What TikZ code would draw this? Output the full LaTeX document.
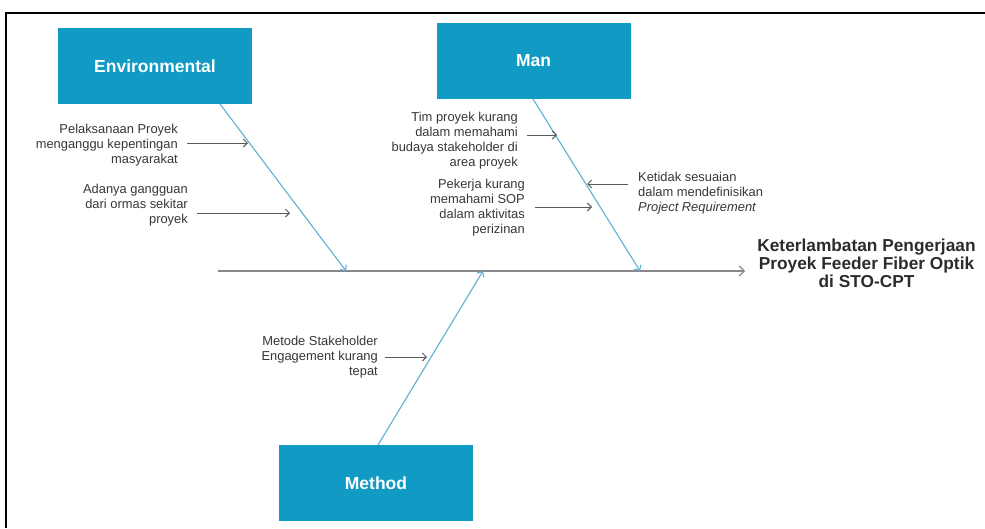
\documentclass[tikz,border=0pt]{standalone}
\usepackage{fontspec}
\setmainfont{Liberation Sans}
\usetikzlibrary{arrows.meta}
\definecolor{boxblue}{RGB}{16,154,196}
\definecolor{bonecol}{RGB}{95,176,210}
\definecolor{txtcol}{RGB}{55,55,55}
\definecolor{arrcol}{RGB}{90,90,90}
\definecolor{spinecol}{RGB}{135,135,140}
\tikzset{
  catbox/.style={fill=boxblue, draw=none, minimum width=194pt, minimum height=76pt,
    text=white, font=\fontsize{17.5}{19}\selectfont\bfseries, inner sep=0pt},
  causetext/.style={inner sep=0pt, text=txtcol, font=\fontsize{12.9}{15}\selectfont},
  bone/.style={draw=bonecol, line width=1.1pt, -{Straight Barb[length=4pt,width=8pt]}},
  causearrow/.style={draw=arrcol, line width=0.9pt, -{Straight Barb[length=4pt,width=8pt]}},
  spine/.style={draw=spinecol, line width=1.2pt, -{Straight Barb[length=5pt,width=10pt]}},
}
\begin{document}
\begin{tikzpicture}[x=1pt,y=-1pt]
\useasboundingbox (0,0) rectangle (985,528);
\fill[white] (0,0) rectangle (985,528);
% frame
\draw[line width=2pt, black] (6,528) -- (6,13) -- (985,13);

% category boxes
\node[catbox] (env) at (155,66) {Environmental};
\node[catbox] (man) at (533.5,61) {Man};
\node[catbox] (met) at (376,483) {Method};

% effect
\node[inner sep=0pt, align=center, text=txtcol!80!black, font=\fontsize{17.3}{18}\selectfont\bfseries] (eff) at (866.5,263)
  {Keterlambatan Pengerjaan\\Proyek Feeder Fiber Optik\\di STO-CPT};

% spine
\coordinate (s0) at (218,271);
\coordinate (s1) at (745,271);
\draw[spine] (s0) -- (s1);

% bones
\coordinate (e0) at (220,104);
\coordinate (e1) at (346,271);
\coordinate (m0) at (533,99);
\coordinate (m1) at (640,271);
\coordinate (h0) at (378,445);
\coordinate (h1) at (483,271);
\draw[bone] (e0) -- (e1);
\draw[bone] (m0) -- (m1);
\draw[bone] (h0) -- (h1);

% causes
\node[causetext, align=right, anchor=east] (t1) at (178,145)
  {Pelaksanaan Proyek\\menganggu kepentingan\\masyarakat};
\coordinate (t1e) at (248,143);
\draw[causearrow] ([shift={(9,-2)}]t1.east) -- (t1e);

\node[causetext, align=right, anchor=east] (t2) at (188,205)
  {Adanya gangguan\\dari ormas sekitar\\proyek};
\coordinate (t2e) at (290,213);
\draw[causearrow] ([shift={(9,8)}]t2.east) -- (t2e);

\node[causetext, align=right, anchor=east] (t3) at (518,140.5)
  {Tim proyek kurang\\dalam memahami\\budaya stakeholder di\\area proyek};
\coordinate (t3e) at (557,135);
\draw[causearrow] ([shift={(9,-5.5)}]t3.east) -- (t3e);

\node[causetext, align=right, anchor=east] (t4) at (525,207.5)
  {Pekerja kurang\\memahami SOP\\dalam aktivitas\\perizinan};
\coordinate (t4e) at (592,207);
\draw[causearrow] ([shift={(10,-0.5)}]t4.east) -- (t4e);

\node[causetext, align=left, anchor=west] (t5) at (638,193)
  {Ketidak sesuaian\\dalam mendefinisikan\\\textit{Project Requirement}};
\coordinate (t5e) at (587,184);
\draw[causearrow] ([shift={(-10,-9)}]t5.west) -- (t5e);

\node[causetext, align=right, anchor=east] (t6) at (378,357)
  {Metode Stakeholder\\Engagement kurang\\tepat};
\coordinate (t6e) at (427,357);
\draw[causearrow] ([shift={(7,0)}]t6.east) -- (t6e);
\end{tikzpicture}
\end{document}
